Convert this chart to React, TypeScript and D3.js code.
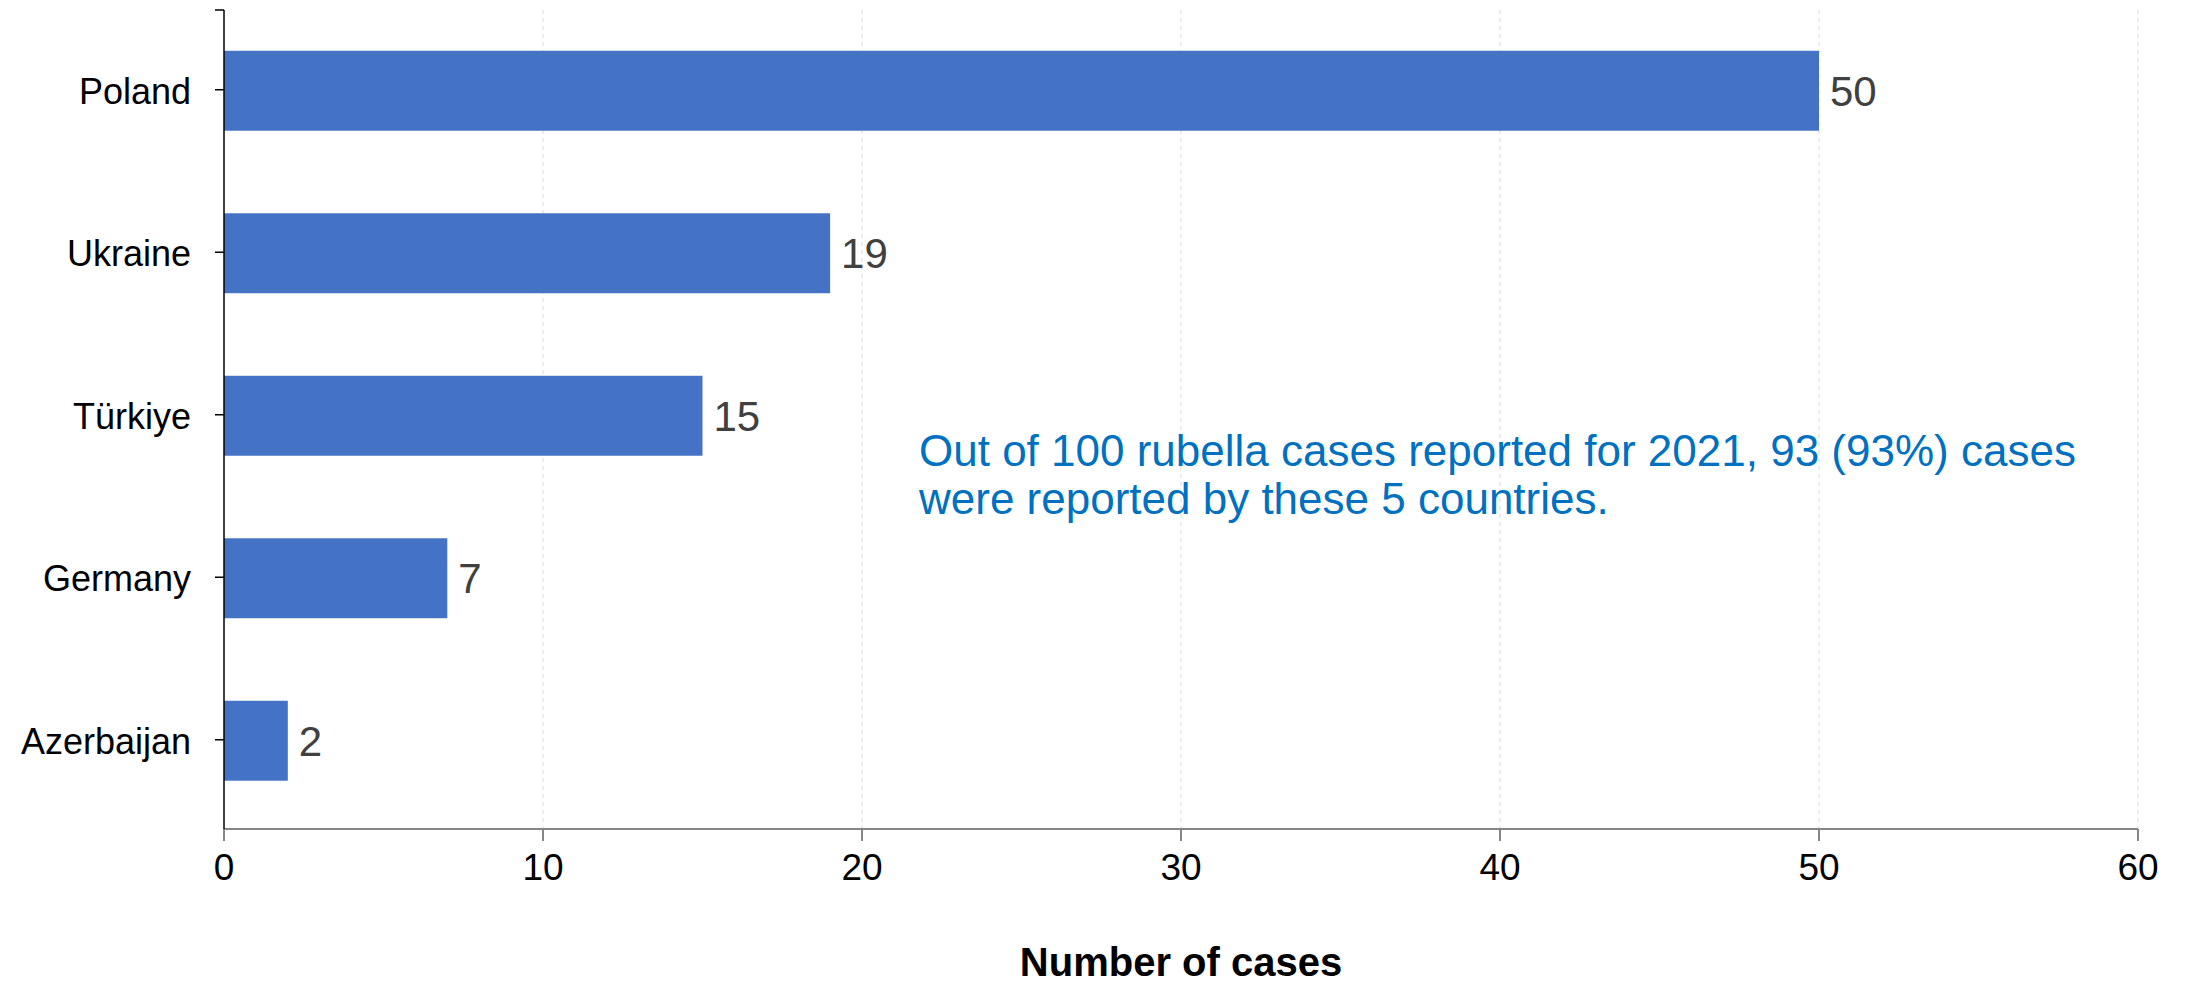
import React from "react";
import * as d3 from "d3";

const countries = ["Poland", "Ukraine", "Türkiye", "Germany", "Azerbaijan"];
const cases = [50, 19, 15, 7, 2];
const xTicks = [0, 10, 20, 30, 40, 50, 60];
const axisTitle = "Number of cases";
const noteLines = [
  "Out of 100 rubella cases reported for 2021, 93 (93%) cases",
  "were reported by these 5 countries.",
];

const W = 2187;
const H = 984;
const FONT = "'Liberation Sans', Arial, Helvetica, sans-serif";

export default function App() {
  const x = d3.scaleLinear().domain([0, 60]).range([224, 2138]);
  const y = d3
    .scaleBand<string>()
    .domain(countries)
    .range([9.5, 822])
    .paddingInner(0.508)
    .paddingOuter(0.254);
  const axisY = 829;
  const topY = 10;

  return (
    <svg
      width={W}
      height={H}
      style={{ position: "absolute", left: 0, top: 0, background: "#fff" }}
      fontFamily={FONT}
    >
      <rect x={0} y={0} width={W} height={H} fill="#fff" />
      {xTicks
        .filter((t) => t > 0)
        .map((t) => (
          <line
            key={"g" + t}
            x1={x(t)}
            x2={x(t)}
            y1={topY}
            y2={axisY}
            stroke="#d9d9d9"
            strokeWidth={1}
            strokeDasharray="4,4"
          />
        ))}
      {countries.map((c, i) => (
        <rect
          key={c}
          x={x(0)}
          y={y(c)!}
          width={x(cases[i]) - x(0)}
          height={y.bandwidth()}
          fill="#4472C4"
        />
      ))}
      {countries.map((c, i) => (
        <text
          key={"v" + c}
          x={x(cases[i]) + 11}
          y={y(c)! + y.bandwidth() / 2}
          dy="0.36em"
          fontSize={42}
          fill="#404040"
        >
          {cases[i]}
        </text>
      ))}
      <line x1={x(0)} x2={x(60)} y1={axisY} y2={axisY} stroke="#868686" strokeWidth={2} />
      {xTicks.map((t) => (
        <g key={"t" + t}>
          <line x1={x(t)} x2={x(t)} y1={axisY} y2={axisY + 12} stroke="#868686" strokeWidth={2} />
          <text x={x(t)} y={880} textAnchor="middle" fontSize={37} fill="#000">
            {t}
          </text>
        </g>
      ))}
      <line x1={x(0)} x2={x(0)} y1={topY} y2={axisY} stroke="#000" strokeWidth={1.5} />
      <line x1={x(0) - 9} x2={x(0)} y1={topY} y2={topY} stroke="#000" strokeWidth={1.5} />
      {countries.map((c) => {
        const cy = y(c)! + y.bandwidth() / 2;
        return (
          <g key={"y" + c}>
            <line x1={x(0) - 9} x2={x(0)} y1={cy - 1} y2={cy - 1} stroke="#000" strokeWidth={1.5} />
            <text x={191} y={cy} dy="0.36em" textAnchor="end" fontSize={36} fill="#000">
              {c}
            </text>
          </g>
        );
      })}
      <text
        x={(x(0) + x(60)) / 2}
        y={976}
        textAnchor="middle"
        fontSize={40}
        fontWeight="bold"
        fill="#000"
      >
        {axisTitle}
      </text>
      {noteLines.map((l, i) => (
        <text key={"n" + i} x={919} y={466 + i * 48} fontSize={44} fill="#0070C0">
          {l}
        </text>
      ))}
    </svg>
  );
}
